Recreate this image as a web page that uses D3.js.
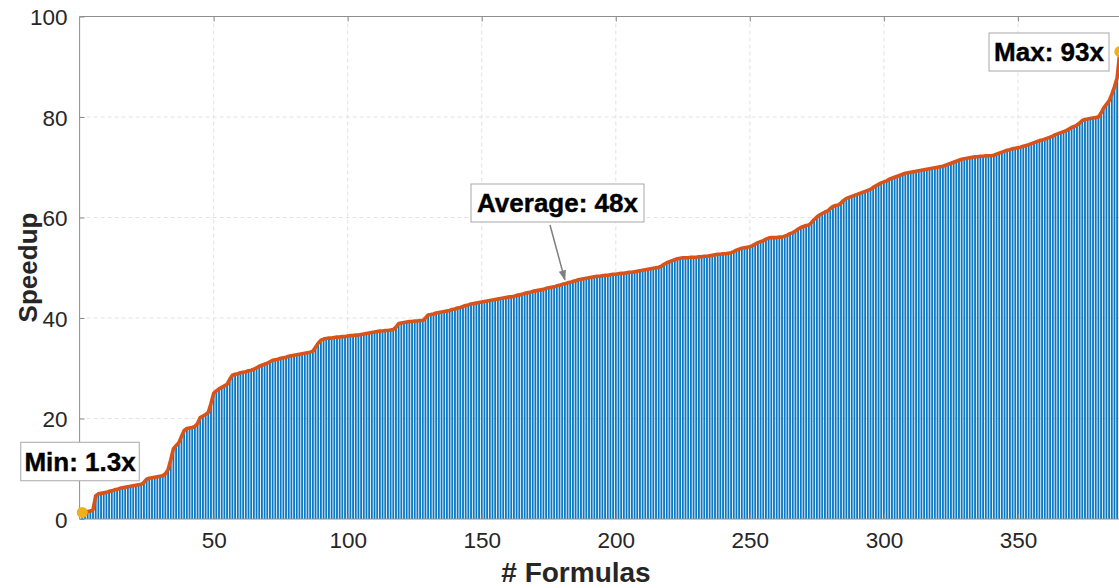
<!DOCTYPE html>
<html>
<head>
<meta charset="utf-8">
<script src="https://cdn.jsdelivr.net/npm/d3@7"></script>
<style>
  html, body { margin: 0; padding: 0; background: #fff; }
  svg { display: block; font-family: "Liberation Sans", Arial, Helvetica, sans-serif; }
</style>
</head>
<body>
<svg id="chart" width="1119" height="588"></svg>
<script>
// Speedup per formula, sorted ascending (formula index starts at 1)
const speedups = [
  1.3, 1.4, 1.5, 1.6, 1.8, 4.6, 5.0, 5.1, 5.2, 5.3,
  5.5, 5.6, 5.8, 5.9, 6.1, 6.2, 6.3, 6.4, 6.5, 6.6,
  6.7, 6.8, 6.9, 7.3, 7.9, 8.1, 8.2, 8.3, 8.4, 8.5,
  8.6, 9.0, 9.8, 11.8, 14.0, 14.6, 15.2, 16.4, 17.6, 18.0,
  18.1, 18.2, 18.4, 19.0, 20.2, 20.5, 20.8, 21.2, 23.0, 25.0,
  25.5, 25.9, 26.2, 26.5, 26.8, 27.8, 28.6, 28.8, 28.9, 29.1,
  29.2, 29.3, 29.5, 29.6, 29.8, 30.1, 30.4, 30.6, 30.8, 31.0,
  31.3, 31.6, 31.7, 31.8, 32.0, 32.1, 32.2, 32.4, 32.5, 32.6,
  32.7, 32.8, 32.9, 33.0, 33.1, 33.2, 33.4, 34.2, 35.0, 35.6,
  35.8, 35.9, 36.0, 36.0, 36.1, 36.2, 36.2, 36.3, 36.3, 36.4,
  36.5, 36.5, 36.6, 36.6, 36.7, 36.8, 36.9, 37.0, 37.1, 37.2,
  37.3, 37.4, 37.4, 37.5, 37.5, 37.6, 37.7, 38.2, 38.9, 39.0,
  39.1, 39.2, 39.3, 39.3, 39.4, 39.4, 39.5, 39.5, 40.0, 40.6,
  40.7, 40.8, 41.0, 41.1, 41.2, 41.3, 41.4, 41.5, 41.7, 41.8,
  42.0, 42.1, 42.3, 42.5, 42.6, 42.8, 42.9, 43.0, 43.1, 43.2,
  43.3, 43.4, 43.5, 43.6, 43.7, 43.8, 43.9, 44.0, 44.1, 44.2,
  44.2, 44.3, 44.5, 44.6, 44.7, 44.9, 45.0, 45.1, 45.3, 45.4,
  45.5, 45.6, 45.7, 45.9, 46.0, 46.1, 46.2, 46.4, 46.5, 46.7,
  46.8, 47.0, 47.1, 47.3, 47.4, 47.6, 47.7, 47.8, 47.9, 48.0,
  48.1, 48.2, 48.3, 48.3, 48.4, 48.5, 48.5, 48.6, 48.7, 48.7,
  48.8, 48.9, 48.9, 49.0, 49.1, 49.1, 49.2, 49.3, 49.4, 49.5,
  49.6, 49.7, 49.8, 49.9, 50.0, 50.1, 50.3, 50.7, 51.0, 51.2,
  51.4, 51.6, 51.8, 51.9, 52.0, 52.0, 52.0, 52.1, 52.1, 52.1,
  52.2, 52.2, 52.3, 52.3, 52.4, 52.5, 52.6, 52.7, 52.7, 52.8,
  52.8, 52.9, 53.0, 53.2, 53.5, 53.7, 53.9, 54.0, 54.1, 54.2,
  54.4, 54.7, 55.0, 55.2, 55.4, 55.7, 55.9, 56.0, 56.0, 56.0,
  56.1, 56.1, 56.3, 56.5, 56.8, 57.0, 57.3, 57.7, 58.0, 58.2,
  58.4, 58.5, 59.0, 59.6, 60.1, 60.5, 60.8, 61.1, 61.3, 61.8,
  62.2, 62.4, 62.5, 62.9, 63.4, 63.8, 64.0, 64.2, 64.4, 64.6,
  64.8, 65.0, 65.2, 65.4, 65.6, 66.0, 66.3, 66.6, 66.9, 67.1,
  67.3, 67.6, 67.8, 68.0, 68.2, 68.4, 68.6, 68.8, 68.9, 69.0,
  69.1, 69.2, 69.3, 69.4, 69.5, 69.6, 69.7, 69.8, 69.9, 70.0,
  70.1, 70.2, 70.4, 70.6, 70.8, 71.0, 71.2, 71.4, 71.6, 71.7,
  71.8, 71.9, 72.0, 72.1, 72.1, 72.2, 72.2, 72.3, 72.3, 72.3,
  72.4, 72.6, 72.8, 73.0, 73.2, 73.4, 73.5, 73.7, 73.8, 73.9,
  74.0, 74.2, 74.3, 74.5, 74.7, 74.9, 75.1, 75.3, 75.4, 75.6,
  75.8, 76.0, 76.2, 76.5, 76.7, 76.9, 77.1, 77.3, 77.6, 77.9,
  78.1, 78.4, 78.8, 79.3, 79.5, 79.6, 79.7, 79.8, 79.9, 80.0,
  80.8, 81.8, 82.5, 83.2, 84.5, 86.0, 87.8, 93.0
];

const xTicks = [50, 100, 150, 200, 250, 300, 350];
const yTicks = [0, 20, 40, 60, 80, 100];

// Callout texts
const minLabel = "Min: 1.3x";
const maxLabel = "Max: 93x";
const avgLabel = "Average: 48x";
const avgIndex = 181;

const data = speedups.map((v, i) => ({ i: i + 1, v }));

const svg = d3.select("#chart");
const plotLeft = 79.6, plotTop = 16.5, plotBottom = 519;
const pxPerUnit = 2.681;
const xMax = 390;

const x = d3.scaleLinear().domain([0, xMax]).range([plotLeft, plotLeft + xMax * pxPerUnit]);
const y = d3.scaleLinear().domain([0, 100]).range([plotBottom, plotTop]);
const plotRight = x(xMax);

const axisColor = "#8e8e8e";
const textColor = "#262626";

// grid
const grid = svg.append("g");
grid.selectAll("line.gx").data(xTicks).join("line")
  .attr("x1", d => x(d)).attr("x2", d => x(d))
  .attr("y1", plotTop).attr("y2", plotBottom)
  .attr("stroke", "#e2e2e2").attr("stroke-width", 1)
  .attr("stroke-dasharray", "4,3");
grid.selectAll("line.gy").data(yTicks.filter(d => d > 0 && d < 100)).join("line")
  .attr("x1", plotLeft).attr("x2", plotRight)
  .attr("y1", d => y(d)).attr("y2", d => y(d))
  .attr("stroke", "#e2e2e2").attr("stroke-width", 1)
  .attr("stroke-dasharray", "4,3");

// bars
const barW = pxPerUnit * 0.68;
svg.append("g").selectAll("rect").data(data).join("rect")
  .attr("x", d => x(d.i) - barW / 2)
  .attr("width", barW)
  .attr("y", d => y(d.v))
  .attr("height", d => y(0) - y(d.v))
  .attr("fill", "#0a78c2");

// speedup curve through bar tops
const line = d3.line().x(d => x(d.i)).y(d => y(d.v));
svg.append("path").datum(data)
  .attr("d", line)
  .attr("fill", "none")
  .attr("stroke", "#D95319")
  .attr("stroke-width", 3.6)
  .attr("stroke-linejoin", "round")
  .attr("stroke-linecap", "round");

// axes box
const box = svg.append("g").attr("stroke", axisColor).attr("stroke-width", 1).attr("fill", "none");
box.append("line").attr("x1", plotLeft).attr("x2", plotLeft).attr("y1", plotTop).attr("y2", plotBottom);
box.append("line").attr("x1", plotLeft).attr("x2", plotRight).attr("y1", plotTop).attr("y2", plotTop);
box.append("line").attr("x1", plotLeft).attr("x2", plotRight).attr("y1", plotBottom).attr("y2", plotBottom);

// ticks (inward) using d3 axes
const xAxisB = svg.append("g").attr("transform", `translate(0,${plotBottom})`)
  .call(d3.axisBottom(x).tickValues(xTicks).tickSizeInner(-5).tickSizeOuter(0).tickPadding(13));
const xAxisT = svg.append("g").attr("transform", `translate(0,${plotTop})`)
  .call(d3.axisTop(x).tickValues(xTicks).tickSizeInner(-5).tickSizeOuter(0).tickFormat(""));
const yAxisL = svg.append("g").attr("transform", `translate(${plotLeft},0)`)
  .call(d3.axisLeft(y).tickValues(yTicks).tickSizeInner(-5).tickSizeOuter(0).tickPadding(12));

[xAxisB, xAxisT, yAxisL].forEach(g => {
  g.select(".domain").remove();
  g.selectAll(".tick line").attr("stroke", axisColor);
  g.selectAll(".tick text")
    .attr("fill", textColor)
    .style("font-size", "22.5px")
    .style("font-family", "'Liberation Sans', Arial, sans-serif");
});
yAxisL.selectAll(".tick text").attr("dy", "0.36em");

// axis titles
svg.append("text")
  .attr("transform", `translate(36.5,267.5) rotate(-90)`)
  .attr("text-anchor", "middle")
  .style("font-size", "26px").style("font-weight", "bold")
  .attr("fill", textColor)
  .text("Speedup");
svg.append("text")
  .attr("x", 576).attr("y", 582)
  .attr("text-anchor", "middle")
  .style("font-size", "28px").style("font-weight", "bold")
  .attr("fill", textColor)
  .text("# Formulas");

// min / max markers
const first = data[0], last = data[data.length - 1];
svg.append("g").selectAll("circle").data([first, last]).join("circle")
  .attr("cx", d => x(d.i)).attr("cy", d => y(d.v))
  .attr("r", 5.5).attr("fill", "#EDB120");

// arrow for average
const avgPoint = data[avgIndex - 1];
svg.append("defs").append("marker")
  .attr("id", "arrowhead").attr("viewBox", "0 0 10 10")
  .attr("refX", 9).attr("refY", 5)
  .attr("markerWidth", 7).attr("markerHeight", 7)
  .attr("orient", "auto-start-reverse")
  .append("path").attr("d", "M0,1.5 L10,5 L0,8.5 Z").attr("fill", "#7f7f7f");
svg.append("line")
  .attr("x1", 550).attr("y1", 225)
  .attr("x2", x(avgPoint.i)).attr("y2", y(avgPoint.v) - 4)
  .attr("stroke", "#7f7f7f").attr("stroke-width", 1.5)
  .attr("marker-end", "url(#arrowhead)");

// labelled callout boxes
function callout(text, cx, cy, w, h) {
  const g = svg.append("g");
  g.append("rect")
    .attr("x", cx - w / 2).attr("y", cy - h / 2)
    .attr("width", w).attr("height", h)
    .attr("fill", "#fff").attr("stroke", "#a8a8a8").attr("stroke-width", 1);
  g.append("text")
    .attr("x", cx).attr("y", cy).attr("dy", "0.36em")
    .attr("text-anchor", "middle")
    .style("font-size", "26px").style("font-weight", "bold")
    .attr("fill", "#000").attr("stroke", "#000").attr("stroke-width", 0.4)
    .text(text);
}
callout(minLabel, 80, 461.5, 118.5, 38.5);
callout(maxLabel, 1049, 52, 120, 38);
callout(avgLabel, 557.5, 203, 173, 38);
</script>
</body>
</html>
